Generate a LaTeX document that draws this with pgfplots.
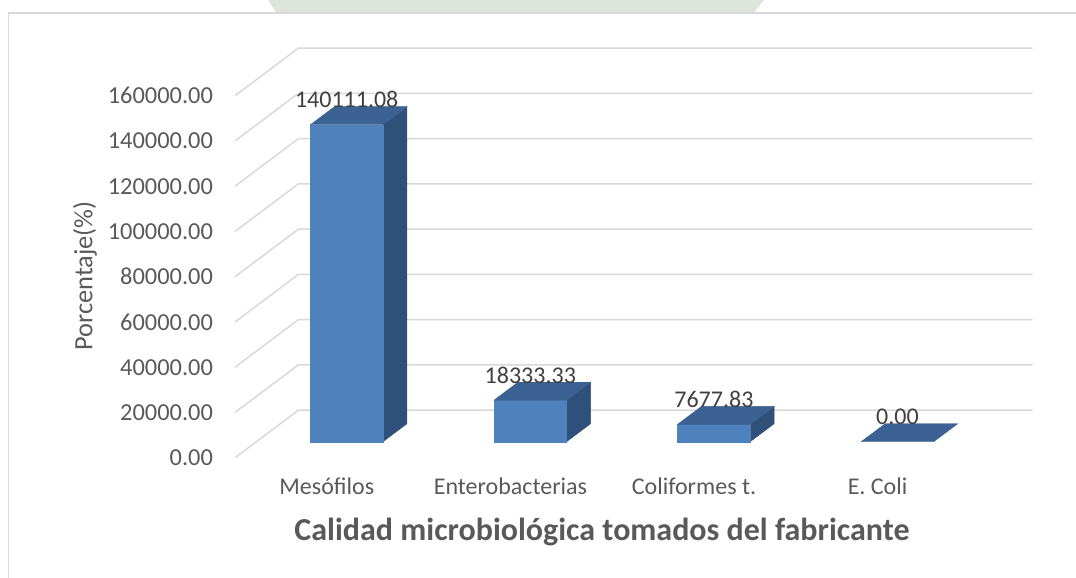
\documentclass[border=0pt]{standalone}
\usepackage{fontspec}
\setmainfont{Carlito}
\usepackage{pgfplots}
\pgfplotsset{compat=1.18}
\definecolor{frontc}{HTML}{4F81BD}
\definecolor{topc}{HTML}{3B6292}
\definecolor{sidec}{HTML}{2F5179}
\definecolor{gridc}{HTML}{D9D9D9}
\definecolor{txt}{HTML}{595959}
\definecolor{lbl}{HTML}{404040}
\definecolor{wm}{HTML}{DDE4DA}
\begin{document}
\begin{tikzpicture}
\path[use as bounding box] (0pt,0pt) rectangle (538pt,-289pt);
% faint watermark at the top edge
\fill[wm] (134pt,0pt) -- (382pt,0pt) -- (377pt,-6.3pt) -- (138pt,-6.3pt) -- cycle;
% chart area border
\draw[gridc, line width=0.8pt] (540pt,-6.35pt) -- (4.15pt,-6.35pt) -- (4.15pt,-291pt);
\begin{axis}[
  at={(117.5pt,-228.85pt)}, anchor=south west,
  scale only axis, width=398.85pt, height=204.75pt,
  xmin=-0.5, xmax=3.8448, ymin=0, ymax=180994,
  clip=false,
  axis line style={draw=none},
  major tick length=0pt,
  xtick={0,1,2,3},
  xticklabels={Mesófilos,Enterobacterias,Coliformes t.,E. Coli},
  ytick={0,20000,40000,60000,80000,100000,120000,140000,160000},
  yticklabels={0.00,20000.00,40000.00,60000.00,80000.00,100000.00,120000.00,140000.00,160000.00},
  scaled y ticks=false,
  xticklabel style={anchor=base, yshift=-18.15pt, font=\fontsize{12}{14}\selectfont, text=txt},
  yticklabel style={anchor=east, inner sep=0pt, xshift=-10.85pt, font=\fontsize{12.2}{14}\selectfont, text=txt},
  xlabel={Calidad microbiológica tomados del fabricante},
  xlabel style={at={(axis description cs:0.46,-0.201)}, anchor=base, font=\bfseries\fontsize{16}{19}\selectfont, text=txt},
  ylabel={Porcentaje(\%)},
  ylabel style={at={(axis description cs:-0.188,0.4437)}, anchor=center, font=\fontsize{13.2}{16}\selectfont, text=txt},
  no markers,
]
% back wall and side wall gridlines
\addplot[gridc, line width=0.75pt] coordinates {(-0.5,0) (-0.1552,20994) (3.8448,20994)};
\addplot[gridc, line width=0.75pt] coordinates {(-0.5,20000) (-0.1552,40994) (3.8448,40994)};
\addplot[gridc, line width=0.75pt] coordinates {(-0.5,40000) (-0.1552,60994) (3.8448,60994)};
\addplot[gridc, line width=0.75pt] coordinates {(-0.5,60000) (-0.1552,80994) (3.8448,80994)};
\addplot[gridc, line width=0.75pt] coordinates {(-0.5,80000) (-0.1552,100994) (3.8448,100994)};
\addplot[gridc, line width=0.75pt] coordinates {(-0.5,100000) (-0.1552,120994) (3.8448,120994)};
\addplot[gridc, line width=0.75pt] coordinates {(-0.5,120000) (-0.1552,140994) (3.8448,140994)};
\addplot[gridc, line width=0.75pt] coordinates {(-0.5,140000) (-0.1552,160994) (3.8448,160994)};
\addplot[gridc, line width=0.75pt] coordinates {(-0.5,160000) (-0.1552,180994) (3.8448,180994)};
% Mesofilos 140111.08
\addplot[fill=sidec, draw=sidec, line width=0.2pt] coordinates {(0.3061,7072) (0.4368,15028) (0.4368,155139.08) (0.3061,147183.08)} -- cycle;
\addplot[fill=frontc, draw=frontc, line width=0.2pt] coordinates {(-0.0893,7072) (0.3061,7072) (0.3061,147183.08) (-0.0893,147183.08)} -- cycle;
\addplot[fill=topc, draw=topc, line width=0.2pt] coordinates {(-0.0893,147183.08) (0.3061,147183.08) (0.4368,155139.08) (0.0414,155139.08)} -- cycle;
% Enterobacterias 18333.33
\addplot[fill=sidec, draw=sidec, line width=0.2pt] coordinates {(1.3061,7072) (1.4368,15028) (1.4368,33361.33) (1.3061,25405.33)} -- cycle;
\addplot[fill=frontc, draw=frontc, line width=0.2pt] coordinates {(0.9107,7072) (1.3061,7072) (1.3061,25405.33) (0.9107,25405.33)} -- cycle;
\addplot[fill=topc, draw=topc, line width=0.2pt] coordinates {(0.9107,25405.33) (1.3061,25405.33) (1.4368,33361.33) (1.0414,33361.33)} -- cycle;
% Coliformes t. 7677.83
\addplot[fill=sidec, draw=sidec, line width=0.2pt] coordinates {(2.3061,7072) (2.4368,15028) (2.4368,22705.83) (2.3061,14749.83)} -- cycle;
\addplot[fill=frontc, draw=frontc, line width=0.2pt] coordinates {(1.9107,7072) (2.3061,7072) (2.3061,14749.83) (1.9107,14749.83)} -- cycle;
\addplot[fill=topc, draw=topc, line width=0.2pt] coordinates {(1.9107,14749.83) (2.3061,14749.83) (2.4368,22705.83) (2.0414,22705.83)} -- cycle;
% E. Coli 0.00
\addplot[fill=topc, draw=topc, line width=0.2pt] coordinates {(2.9107,7072) (3.3061,7072) (3.4368,15028) (3.0414,15028)} -- cycle;
% data labels
\addplot[draw=none, nodes near coords, point meta=explicit symbolic,
  nodes near coords style={anchor=center, yshift=12.5pt, font=\fontsize{12}{14}\selectfont, text=lbl}]
  coordinates {(0.1084,147183.08)[140111.08] (1.1084,25405.33)[18333.33] (2.1084,14749.83)[7677.83] (3.1084,7072)[0.00]};
\end{axis}
\end{tikzpicture}
\end{document}
